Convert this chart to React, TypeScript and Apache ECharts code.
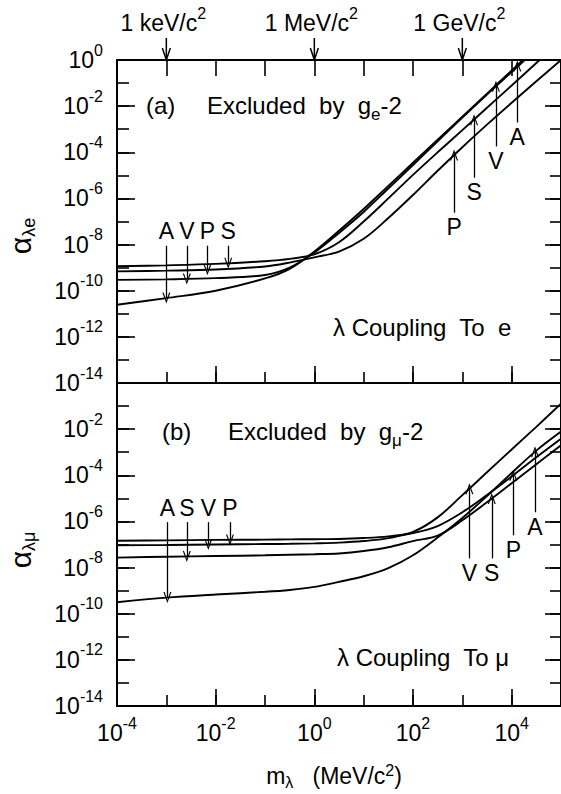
import React, { useEffect, useRef } from 'react';
import * as echarts from 'echarts';

const FONT = '"Liberation Sans", Arial, Helvetica, sans-serif';

// mass grid (MeV/c^2)
const massMeV = [1e-4, 1e-3, 1e-2, 1e-1, 0.316, 1, 3.16, 10, 31.6, 100, 316, 1000, 3160, 1e4, 3.16e4, 1e5];

// (a) lambda coupling to e : upper limits on alpha
const eS = [1.15e-9, 1.26e-9, 1.45e-9, 1.9e-9, 2.4e-9, 3.8e-9, 1.26e-8, 1.0e-7, 1.0e-6, 1.05e-5, 1.0e-4, 9.1e-4, 8.5e-3, 7.9e-2, 0.74, 7.1];
const eP = [6.9e-10, 7.4e-10, 8.3e-10, 1.12e-9, 1.66e-9, 2.8e-9, 5.0e-9, 1.78e-8, 1.41e-7, 1.41e-6, 1.58e-5, 1.66e-4, 1.58e-3, 1.41e-2, 0.12, 1.0];
const eV = [2.95e-10, 3.1e-10, 3.5e-10, 4.8e-10, 1.0e-9, 4.5e-9, 3.2e-8, 2.6e-7, 2.7e-6, 2.8e-5, 3.0e-4, 3.2e-3, 3.2e-2, 0.3, 2.8, 25];
const eA = [2.45e-11, 4.8e-11, 1.0e-10, 3.4e-10, 8.9e-10, 5.0e-9, 4.0e-8, 3.5e-7, 3.5e-6, 3.5e-5, 3.5e-4, 3.5e-3, 3.5e-2, 0.35, 3.5, 32];

// (b) lambda coupling to mu
const mP = [1.45e-7, 1.51e-7, 1.58e-7, 1.62e-7, 1.66e-7, 1.7e-7, 1.74e-7, 1.9e-7, 2.24e-7, 3.16e-7, 6.3e-7, 2.5e-6, 1.41e-5, 8.9e-5, 6.0e-4, 3.8e-3];
const mV = [9.3e-8, 9.5e-8, 1.0e-7, 1.05e-7, 1.07e-7, 1.12e-7, 1.2e-7, 1.41e-7, 1.9e-7, 3.5e-7, 1.5e-6, 1.38e-5, 1.35e-4, 1.32e-3, 1.26e-2, 0.126];
const mS = [2.7e-8, 2.95e-8, 3.16e-8, 3.4e-8, 3.6e-8, 3.8e-8, 4.1e-8, 5.2e-8, 7.6e-8, 1.41e-7, 2.4e-7, 1.12e-6, 6.8e-6, 4.5e-5, 3.0e-4, 2.0e-3];
const mA = [3.16e-10, 5.0e-10, 6.8e-10, 8.9e-10, 1.07e-9, 1.45e-9, 2.4e-9, 4.2e-9, 9.5e-9, 3.4e-8, 2.0e-7, 1.41e-6, 1.26e-5, 1.26e-4, 1.17e-3, 7.8e-3];

// arrow annotations: mass, tail alpha, tip alpha (on the curve)
const eArrowsS = [{ m: 1.8e-2, tail: 8.9e-9, tip: 1.55e-9 }, { m: 1730, tail: 7.9e-6, tip: 2.6e-3 }];
const eArrowsP = [{ m: 6.8e-3, tail: 8.9e-9, tip: 8.1e-10 }, { m: 680, tail: 2.4e-7, tip: 7.6e-5 }];
const eArrowsV = [{ m: 2.6e-3, tail: 8.9e-9, tip: 3.2e-10 }, { m: 4800, tail: 1.8e-4, tip: 7.2e-2 }];
const eArrowsA = [{ m: 1.0e-3, tail: 8.9e-9, tip: 4.8e-11 }, { m: 1.3e4, tail: 1.95e-3, tip: 0.55 }];
const mArrowsP = [{ m: 1.95e-2, tail: 9.3e-7, tip: 1.58e-7 }, { m: 1.08e4, tail: 2.5e-7, tip: 1.0e-4 }];
const mArrowsV = [{ m: 7.1e-3, tail: 9.3e-7, tip: 1.0e-7 }, { m: 1390, tail: 2.5e-8, tip: 2.6e-5 }];
const mArrowsS = [{ m: 2.6e-3, tail: 9.3e-7, tip: 3.0e-8 }, { m: 3950, tail: 2.5e-8, tip: 9.8e-6 }];
const mArrowsA = [{ m: 1.05e-3, tail: 9.3e-7, tip: 5.0e-10 }, { m: 2.97e4, tail: 2.5e-6, tip: 1.05e-3 }];

const topMarks = [
  { m: 1e-3, text: '1 keV/c' },
  { m: 1, text: '1 MeV/c' },
  { m: 1e3, text: '1 GeV/c' },
];

const L = Math.log10;
const ARROW = 'path://M5,0 L10,11 L8.5,11 L5,3.2 L1.5,11 L0,11 Z';

const base = { fontSize: 23, fontFamily: FONT, lineHeight: 36 };
const richLabel = {
  b: { ...base, color: '#000' },
  s: { fontSize: 16, fontFamily: FONT, color: '#000', lineHeight: 16, verticalAlign: 'top' },
};
const richG = {
  t: { ...base, fill: '#000' },
  n: { fontSize: 24, fontFamily: FONT, lineHeight: 36, fill: '#000' },
  sp: { fontSize: 16, fontFamily: FONT, fill: '#000', lineHeight: 16, verticalAlign: 'top' },
  sb: { fontSize: 17, fontFamily: FONT, fill: '#000', lineHeight: 16, verticalAlign: 'bottom' },
  tt: { fontSize: 23, fontFamily: FONT, fill: '#000', lineHeight: 28 },
  tsp: { fontSize: 16, fontFamily: FONT, fill: '#000', lineHeight: 12, verticalAlign: 'top' },
  tsb: { fontSize: 16, fontFamily: FONT, fill: '#000', lineHeight: 12, verticalAlign: 'bottom' },
  a: { fontSize: 30, fontFamily: FONT, fill: '#000', lineHeight: 36 },
  sb2: { fontSize: 18, fontFamily: FONT, fill: '#000', lineHeight: 18, verticalAlign: 'bottom' },
};

function xAx(grid: number, pos: string, interval: number, tickLen: number, extra: any = {}) {
  return {
    type: 'value', gridIndex: grid, position: pos, min: -4, max: 5, interval,
    axisLine: { show: true, onZero: false, lineStyle: { color: '#000', width: 2 } },
    axisTick: { show: tickLen > 0, inside: true, length: tickLen, lineStyle: { color: '#000', width: 1.6 } },
    axisLabel: { show: false },
    splitLine: { show: false },
    ...extra,
  };
}
function yAx(grid: number, pos: string, interval: number, tickLen: number, extra: any = {}) {
  return {
    type: 'value', gridIndex: grid, position: pos, min: -14, max: 0, interval,
    axisLine: { show: true, onZero: false, lineStyle: { color: '#000', width: 2 } },
    axisTick: { show: tickLen > 0, inside: true, length: tickLen, lineStyle: { color: '#000', width: 1.6 } },
    axisLabel: { show: false },
    splitLine: { show: false },
    ...extra,
  };
}

function curve(vals: number[], xi: number, yi: number, letter: string, arrows: any[]) {
  return {
    type: 'line', xAxisIndex: xi, yAxisIndex: yi,
    data: massMeV.map((m, i) => [L(m), L(vals[i])]),
    showSymbol: false, smooth: 0.35, silent: true,
    lineStyle: { color: '#000', width: 1.9 },
    markLine: {
      silent: true, animation: false,
      symbol: ['none', ARROW], symbolSize: [8, 11],
      lineStyle: { color: '#000', width: 1.3, type: 'solid' },
      label: { show: true, position: 'start', formatter: () => letter, color: '#000', fontSize: 23, fontFamily: FONT, distance: 3 },
      emphasis: { disabled: true },
      data: arrows.map((a) => [{ coord: [L(a.m), L(a.tail)] }, { coord: [L(a.m), L(a.tip)] }]),
    },
  };
}

export default function App() {
  const ref = useRef<HTMLDivElement>(null);
  useEffect(() => {
    if (!ref.current) return;
    const chart = echarts.init(ref.current, null, { renderer: 'svg' });
    const labelX = {
      axisLabel: {
        show: true, margin: 9,
        formatter: (v: number) => (Math.abs(v % 2) === 0 && v < 5 ? `{b|10}{s|${v}}` : ''),
        rich: richLabel,
      },
    };
    const labelY = (grid: number) => ({
      axisLabel: {
        show: true, margin: 14,
        formatter: (v: number) => (grid === 1 && v === 0 ? '' : `{b|10}{s|${v}}`),
        rich: richLabel,
      },
    });
    chart.setOption({
      animation: false,
      grid: [
        { left: 117, top: 60, width: 444, height: 323, containLabel: false, outerBoundsMode: 'none' },
        { left: 117, top: 383, width: 444, height: 323, containLabel: false, outerBoundsMode: 'none' },
      ],
      xAxis: [
        xAx(0, 'bottom', 1, 11),
        xAx(0, 'bottom', 2, 17),
        xAx(0, 'top', 1, 16),
        xAx(1, 'bottom', 1, 11),
        xAx(1, 'bottom', 2, 17, labelX),
        xAx(1, 'top', 1, 0),
      ],
      yAxis: [
        yAx(0, 'left', 1, 12),
        yAx(0, 'left', 2, 18, labelY(0)),
        yAx(0, 'right', 1, 11),
        yAx(0, 'right', 2, 16),
        yAx(1, 'left', 1, 12),
        yAx(1, 'left', 2, 18, labelY(1)),
        yAx(1, 'right', 1, 11),
        yAx(1, 'right', 2, 16),
      ],
      series: [
        curve(eS, 0, 0, 'S', eArrowsS),
        curve(eP, 0, 0, 'P', eArrowsP),
        curve(eV, 0, 0, 'V', eArrowsV),
        curve(eA, 0, 0, 'A', eArrowsA),
        curve(mP, 3, 4, 'P', mArrowsP),
        curve(mV, 3, 4, 'V', mArrowsV),
        curve(mS, 3, 4, 'S', mArrowsS),
        curve(mA, 3, 4, 'A', mArrowsA),
      ],
    });

    const g: any[] = [];
    topMarks.forEach((t) => {
      const px = chart.convertToPixel({ xAxisIndex: 2 }, L(t.m)) as number;
      g.push({ type: 'line', shape: { x1: px, y1: 38, x2: px, y2: 61 }, style: { stroke: '#000', lineWidth: 1.5 } });
      g.push({ type: 'polyline', shape: { points: [[px - 4, 48], [px, 60], [px + 4, 48]] }, style: { stroke: '#000', lineWidth: 1.5, fill: 'none' } });
      g.push({ type: 'text', x: px - 3, y: 23, style: { text: `{t|${t.text}}{sp|2}`, align: 'center', verticalAlign: 'middle', rich: richG } });
    });
    const txt = (x: number, y: number, text: string, rot = 0) => ({
      type: 'text', x, y, rotation: rot,
      style: { text, align: rot ? 'center' : 'left', verticalAlign: 'middle', rich: richG, fill: '#000' },
    });
    g.push(txt(146, 105, '{n|(a)}'));
    g.push(txt(207, 105, '{n|Excluded  by  g}{sb|e}{n|-2}'));
    g.push(txt(333, 327, '{n|λ Coupling  To  e}'));
    g.push(txt(162, 431, '{n|(b)}'));
    g.push(txt(228, 431, '{n|Excluded  by  g}{sb|μ}{n|-2}'));
    g.push(txt(337, 657, '{n|λ Coupling  To μ}'));
    g.push({ type: 'text', x: 334, y: 776, style: { text: '{tt|m}{tsb|λ}{tt|   (MeV/c}{tsp|2}{tt|)}', align: 'center', verticalAlign: 'middle', rich: richG } });
    g.push(txt(20, 236, '{a|α}{sb2|λe}', Math.PI / 2));
    g.push(txt(20, 550, '{a|α}{sb2|λμ}', Math.PI / 2));
    chart.setOption({ graphic: g });

    return () => chart.dispose();
  }, []);
  return <div ref={ref} style={{ position: 'absolute', left: 0, top: 0, width: 561, height: 794 }} />;
}
